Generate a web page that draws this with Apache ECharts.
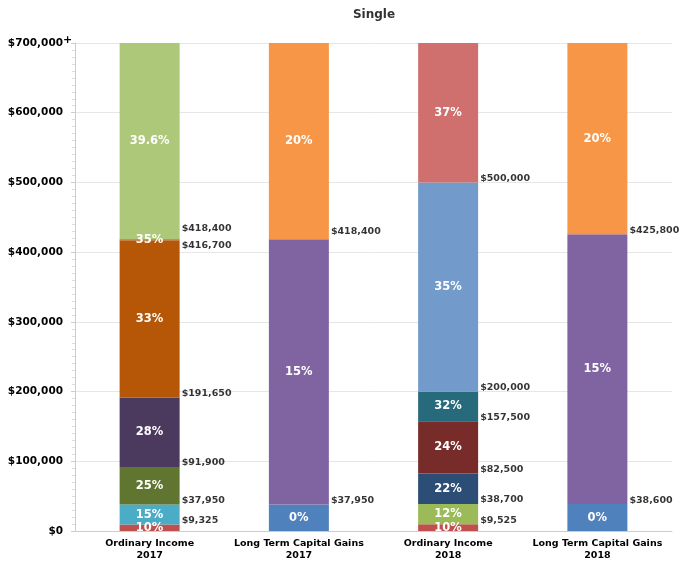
<!DOCTYPE html>
<html>
<head>
<meta charset="utf-8">
<script src="https://cdn.jsdelivr.net/npm/echarts@6/dist/echarts.min.js"></script>
<style>
  html, body { margin: 0; padding: 0; background: #fff; }
  #main { width: 689px; height: 568px; }
</style>
</head>
<body>
<div id="main"></div>
<script>
// categories and bracket upper limits (top bracket capped at 700,000)
var categories = ['Ordinary Income\n2017', 'Long Term Capital Gains\n2017', 'Ordinary Income\n2018', 'Long Term Capital Gains\n2018'];

var oi2017Limits = [9325, 37950, 91900, 191650, 416700, 418400, 700000];
var oi2017Rates = ['10%', '15%', '25%', '28%', '33%', '35%', '39.6%'];
var ltcg2017Limits = [37950, 418400, 700000];
var ltcg2017Rates = ['0%', '15%', '20%'];
var oi2018Limits = [9525, 38700, 82500, 157500, 200000, 500000, 700000];
var oi2018Rates = ['10%', '12%', '22%', '24%', '32%', '35%', '37%'];
var ltcg2018Limits = [38600, 425800, 700000];
var ltcg2018Rates = ['0%', '15%', '20%'];

var yTicks = [0, 100000, 200000, 300000, 400000, 500000, 600000, 700000];

// colours per bracket
var oi2017Colors = ['#c0504d', '#4bacc6', '#5f7530', '#4b3a5e', '#b65708', '#b65708', '#adc879'];
var ltcgColors = ['#4f81bd', '#8064a2', '#f79646'];
var oi2018Colors = ['#c0504d', '#9bbb59', '#2c4d75', '#772c2a', '#276a7c', '#729aca', '#d0706e'];

var columns = [
    { limits: oi2017Limits, rates: oi2017Rates, colors: oi2017Colors },
    { limits: ltcg2017Limits, rates: ltcg2017Rates, colors: ltcgColors },
    { limits: oi2018Limits, rates: oi2018Rates, colors: oi2018Colors },
    { limits: ltcg2018Limits, rates: ltcg2018Rates, colors: ltcgColors }
];

// small vertical nudges so the boundary labels don't collide
var labelNudge = { '0_416700': 5, '0_418400': -11, '1_418400': -8 };

var font = 'DejaVu Sans, Verdana, sans-serif';

var series = [];
for (var layer = 0; layer < 7; layer++) {
    var data = columns.map(function(col) {
        if (layer >= col.limits.length) return '-';
        var prev = layer === 0 ? 0 : col.limits[layer - 1];
        return {
            value: col.limits[layer] - prev,
            rate: col.rates[layer],
            itemStyle: { color: col.colors[layer] }
        };
    });
    series.push({
        type: 'bar',
        stack: 'tax',
        barWidth: 60,
        data: data,
        label: {
            show: true,
            position: 'inside',
            color: '#fff',
            fontFamily: font,
            fontWeight: 'bold',
            fontSize: 11.5,
            formatter: function(p) { return p.data.rate; }
        }
    });
}

// boundary amount labels on the right side of each bar
var boundaryData = [];
columns.forEach(function(col, ci) {
    col.limits.slice(0, -1).forEach(function(v) {
        var key = ci + '_' + v;
        boundaryData.push({
            value: [ci, v],
            label: { offset: [32, labelNudge[key] !== undefined ? labelNudge[key] : -4] }
        });
    });
});
series.push({
    type: 'scatter',
    symbolSize: 0,
    silent: true,
    z: 5,
    data: boundaryData,
    label: {
        show: true,
        position: 'inside',
        align: 'left',
        verticalAlign: 'middle',
        color: '#000',
        fontFamily: font,
        fontWeight: 'bold',
        fontSize: 9.5,
        formatter: function(p) { return '$' + p.value[1].toLocaleString('en-US'); }
    }
});

var myChart = echarts.init(document.getElementById('main'));
var option = {
    animation: false,
    title: {
        text: 'Single',
        left: 369,
        textAlign: 'center',
        top: 4,
        textStyle: { fontFamily: font, fontWeight: 'bold', fontSize: 12, color: '#333' }
    },
    grid: { left: 75, right: 17, top: 43, bottom: 37 },
    xAxis: {
        type: 'category',
        data: categories,
        axisLine: { lineStyle: { color: '#ccc' } },
        axisTick: { show: false },
        axisLabel: {
            interval: 0,
            color: '#000',
            fontFamily: font,
            fontWeight: 'bold',
            fontSize: 9.5,
            lineHeight: 12,
            margin: 7
        }
    },
    yAxis: {
        type: 'value',
        min: yTicks[0],
        max: yTicks[yTicks.length - 1],
        interval: yTicks[1] - yTicks[0],
        axisLine: { show: true, lineStyle: { color: '#ccc' } },
        axisTick: { show: true, length: 4, lineStyle: { color: '#ccc' } },
        minorTick: { show: true, splitNumber: 10, length: 3, lineStyle: { color: '#ddd' } },
        splitLine: { lineStyle: { color: '#e6e6e6' } },
        axisLabel: {
            margin: 3,
            formatter: function(v) {
                var s = '$' + v.toLocaleString('en-US');
                return v === yTicks[yTicks.length - 1] ? '{a|' + s + '}{p|+}' : '{a|' + s + '}{p| }';
            },
            rich: {
                a: { color: '#000', fontFamily: font, fontWeight: 'bold', fontSize: 10.5, lineHeight: 16 },
                p: { color: '#000', fontFamily: font, fontWeight: 'bold', fontSize: 11, width: 9, align: 'left', lineHeight: 10, verticalAlign: 'top' }
            }
        }
    },
    series: series
};
myChart.setOption(option);
</script>
</body>
</html>
